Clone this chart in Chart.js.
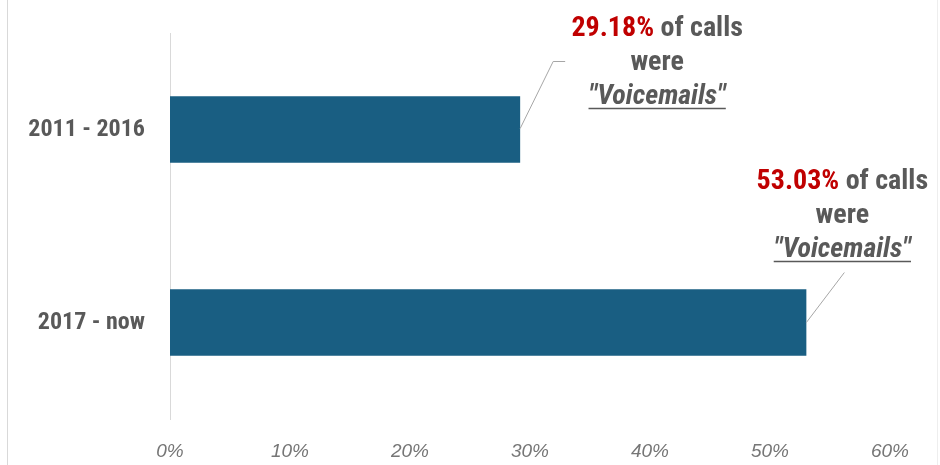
<!DOCTYPE html>
<html>
<head>
<meta charset="utf-8">
<script src="https://cdn.jsdelivr.net/npm/chart.js@4/dist/chart.umd.min.js"></script>
<style>
html,body{margin:0;padding:0;background:#fff;}
#wrap{position:relative;width:940px;height:465px;}
#frame{position:absolute;left:7px;top:0;width:931px;height:465px;border-left:1px solid #d9d9d9;border-right:1px solid #eeeeee;box-sizing:border-box;pointer-events:none;}
</style>
</head>
<body>
<div id="wrap"><canvas id="c" width="940" height="465"></canvas><div id="frame"></div></div>
<script>
const categories = ["2011 - 2016", "2017 - now"];
const voicemailPct = [29.18, 53.03];
const tickLabels = ["0%", "10%", "20%", "30%", "40%", "50%", "60%"];
const noteWords = ["of calls", "were", "\"Voicemails\""];

const BAR = "#195e82";
const RED = "#c00000";
const GREY = "#595959";
const NARROW = "'Liberation Sans Narrow', 'Roboto Condensed', 'Liberation Sans', sans-serif";

const notePlugin = {
  id: "notes",
  afterDatasetsDraw(chart, args, opts) {
    const ctx = chart.ctx;
    const meta = chart.getDatasetMeta(0);
    meta.data.forEach((bar, i) => {
      const L = opts.layout[i];
      const ax = bar.x, ay = bar.y;
      ctx.save();
      ctx.strokeStyle = "#a6a6a6";
      ctx.lineWidth = 1;
      ctx.beginPath();
      ctx.moveTo(ax + L.path[0][0], ay + L.path[0][1]);
      for (let k = 1; k < L.path.length; k++) ctx.lineTo(ax + L.path[k][0], ay + L.path[k][1]);
      ctx.stroke();
      const cx = ax + L.dx;
      let y = ay + L.dy;
      ctx.textBaseline = "middle";
      const f = "bold " + opts.size + "px " + NARROW;
      const fi = "italic bold " + opts.size + "px " + NARROW;
      ctx.font = f;
      const pct = voicemailPct[i].toFixed(2) + "%";
      const rest = " " + noteWords[0];
      const w1 = ctx.measureText(pct).width, w2 = ctx.measureText(rest).width;
      let x0 = cx - (w1 + w2) / 2;
      ctx.textAlign = "left";
      ctx.fillStyle = RED;
      ctx.fillText(pct, x0, y);
      ctx.fillStyle = GREY;
      ctx.fillText(rest, x0 + w1, y);
      y += opts.lh;
      ctx.textAlign = "center";
      ctx.fillText(noteWords[1], cx, y);
      y += opts.lh;
      ctx.font = fi;
      ctx.fillText(noteWords[2], cx, y);
      const w3 = ctx.measureText(noteWords[2]).width;
      ctx.strokeStyle = GREY;
      ctx.lineWidth = 1.5;
      ctx.beginPath();
      ctx.moveTo(cx - w3 / 2, y + 12);
      ctx.lineTo(cx + w3 / 2, y + 12);
      ctx.stroke();
      ctx.restore();
    });
  }
};

new Chart(document.getElementById("c"), {
  type: "bar",
  data: {
    labels: categories,
    datasets: [{
      data: voicemailPct,
      backgroundColor: BAR,
      borderWidth: 0,
      barPercentage: 0.69,
      categoryPercentage: 0.5
    }]
  },
  options: {
    indexAxis: "y",
    responsive: false,
    animation: false,
    layout: { padding: { left: 0, right: 50, top: 33, bottom: 0 } },
    plugins: {
      legend: { display: false },
      tooltip: { enabled: false },
      notes: {
        size: 28,
        lh: 34,
        layout: [
          { dx: 137, dy: -101, path: [[0, -1], [33, -68], [45, -68]] },
          { dx: 36, dy: -141, path: [[0, 0], [38, -50]] }
        ]
      }
    },
    scales: {
      x: {
        min: 0, max: 60,
        grid: { display: false, drawTicks: false },
        border: { display: false },
        ticks: {
          stepSize: 10,
          padding: 21,
          color: "#767676",
          font: { family: "'Liberation Sans', Arial, sans-serif", size: 19, style: "italic" },
          callback: (v, i) => tickLabels[i]
        },
        afterFit(s) { s.height = 46; s.paddingLeft = 0; s.paddingRight = 0; }
      },
      y: {
        grid: { display: false, drawTicks: false },
        border: { display: true, color: "#d9d9d9", width: 1 },
        ticks: {
          padding: 25,
          color: GREY,
          font: { family: NARROW, size: 24, weight: "bold" }
        },
        afterFit(s) { s.width = 170; s.paddingTop = 0; s.paddingBottom = 0; }
      }
    }
  },
  plugins: [notePlugin]
});
</script>
</body>
</html>
